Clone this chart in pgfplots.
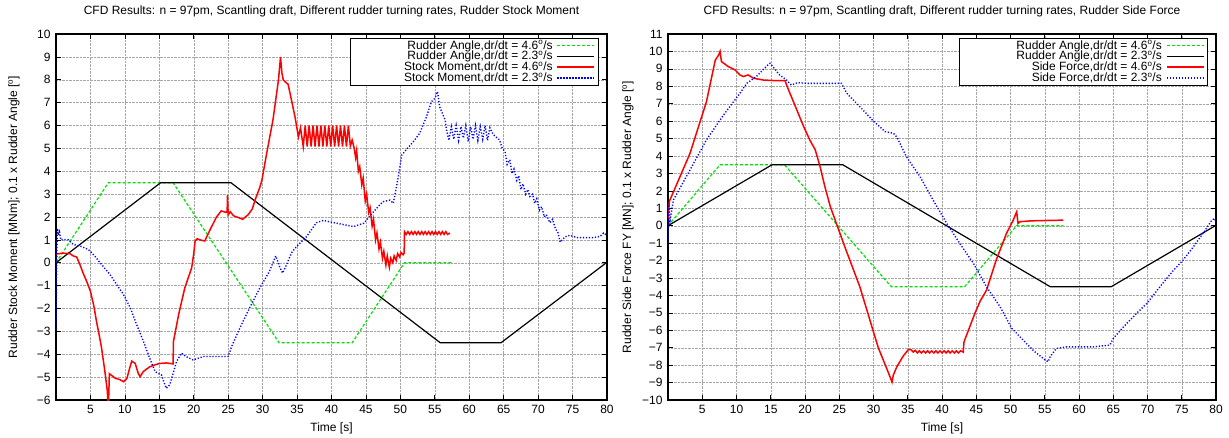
\documentclass[border=0pt]{standalone}
\usepackage{fontspec}
\setmainfont{Liberation Sans}
\usepackage{pgfplots}
\pgfplotsset{compat=1.18}
\definecolor{gGreen}{RGB}{0,225,0}
\definecolor{gRed}{RGB}{255,0,0}
\definecolor{gBlue}{RGB}{0,0,255}
\newcommand{\fsz}{\fontsize{12}{12}\selectfont}
\newcommand{\dgr}{\textsuperscript{o}}
\newcommand{\lgn}[1]{\makebox[198pt][r]{#1}}
\pgfplotsset{
  cfd/.style={
    scale only axis, height=366pt,
    xmin=0, xmax=80, xtick={5,10,...,80},
    grid=major, grid style={densely dotted, gray!70, line width=0.4pt},
    axis line style={line width=1.1pt},
    tick style={black, line width=0.7pt}, major tick length=5pt,
    tick label style={font=\fsz},
    x tick label style={yshift=-2pt},
    y tick label style={xshift=-2pt},
    /pgf/number format/assume math mode=true,
    title style={font=\fsz, at={(axis description cs:0.5,1)}, anchor=center, yshift=17pt},
    xlabel style={font=\fsz, at={(axis description cs:0.5,0)}, anchor=center, yshift=-28pt},
    ylabel style={font=\fsz},
    legend plot pos=right, legend cell align=right,
    legend image code/.code={\draw[##1] (0pt,0pt) -- (37pt,0pt);},
    legend style={font=\fsz, draw=black, line width=1pt, at={(axis description cs:0.985,0.99)}, anchor=north east,
      inner xsep=3pt, inner ysep=2pt, nodes={inner xsep=1pt, inner ysep=0.3pt}, column sep=3pt, row sep=0pt},
    xlabel={Time [s]},
  },
  gr/.style={color=gGreen, line width=1.2pt, dash pattern=on 3pt off 2pt},
  bk/.style={color=black, line width=1.2pt},
  rd/.style={color=gRed, line width=1.5pt},
  bl/.style={color=gBlue, line width=1.4pt, dash pattern=on 1.2pt off 1.8pt},
}
\begin{document}
\begin{tikzpicture}
\useasboundingbox (0,0) rectangle (1229pt,437pt);
% ---------------- LEFT ----------------
\begin{axis}[cfd, at={(56pt,37pt)}, anchor=south west, width=551pt,
  ymin=-6, ymax=10, ytick={-6,-5,...,10},
  yticklabels={−6,−5,−4,−3,−2,−1,0,1,2,3,4,5,6,7,8,9,10},
  title={CFD Results: n = 97pm, Scantling draft, Different rudder turning rates, Rudder Stock Moment},
  ylabel={Rudder Stock Moment [MNm]; 0.1 x Rudder Angle [\dgr]},
  ylabel style={at={(axis description cs:-0.0762,0.5)}, anchor=center},
]
\addplot[gr] coordinates {(0,0) (7.6,3.5) (17.0,3.5) (32.4,-3.5) (43.0,-3.5) (50.6,0) (57.5,0)};
\addlegendentry{\lgn{Rudder Angle,dr/dt = 4.6\dgr/s}}
\addplot[bk] coordinates {(0,0) (15.2,3.5) (25.4,3.5) (55.8,-3.5) (64.6,-3.5) (79.9,0) (80,0)};
\addlegendentry{\lgn{Rudder Angle,dr/dt = 2.3\dgr/s}}
\addplot[rd] coordinates {
(0,0.38) (1,0.42) (2,0.4) (2.5,0.3) (3,0.25) (3.5,-0.1) (4,-0.5) (4.5,-0.85) (5,-1.25) (5.5,-1.9) (5.9,-2.6) (6.3,-3.2) (6.6,-3.7) (7.1,-4.75) (7.45,-5.6) (7.6,-6.4) (7.75,-4.85)
(8.2,-4.95) (8.6,-5.05) (9.2,-5.1) (9.8,-5.2) (10.3,-5.05) (10.7,-4.6) (11.0,-4.3) (11.5,-4.4) (11.9,-4.8) (12.2,-4.98) (12.7,-4.75) (13.6,-4.55) (14.5,-4.45) (15.1,-4.4) (16,-4.38) (17.0,-4.42)
(17.05,-3.45) (17.8,-2.27) (18.7,-1.1) (19.7,-0.22) (20.0,0.4) (20.2,0.95) (20.5,1.05) (20.9,1.0) (21.6,0.95) (22.3,1.4) (23.3,2.0) (24.0,2.27) (24.7,2.2) (24.85,2.25) (24.9,2.95) (25.0,2.1) (25.3,2.23) (25.8,2.05) (26.7,1.95) (27.1,1.9) (27.9,2.1) (28.5,2.35) (28.9,2.74) (29.6,3.3) (29.9,3.62) (30.6,4.8) (31.5,6.24) (32.3,7.99) (32.6,9.0) (32.8,8.3) (33,7.99) (33.7,7.8) (34.2,7.1) (34.7,6.38) (35.2,5.5) (35.5,5.9)
(35.90,5.08) (36.18,6.00) (36.47,5.08) (36.75,6.00) (37.04,5.08) (37.32,6.00) (37.61,5.08) (37.89,6.00) (38.18,5.08) (38.46,6.00) (38.75,5.08) (39.03,6.00) (39.32,5.08) (39.60,6.00) (39.89,5.08) (40.17,6.00) (40.46,5.08) (40.74,6.00) (41.03,5.08) (41.31,6.00) (41.60,5.08) (41.88,6.00) (42.17,5.08) (42.45,6.00) (42.74,5.10) (43.0,5.36)
(43.3,5.0) (43.5,4.6) (43.65,4.9) (43.9,4.0) (44.1,4.2) (44.4,3.4) (44.6,3.7) (44.9,2.7) (45.1,3.0) (45.4,2.2) (45.6,2.4) (45.9,1.6) (46.1,1.9) (46.4,1.0) (46.6,1.3) (46.9,0.6) (47.1,0.9) (47.4,0.2) (47.6,0.5) (47.9,-0.1) (48.1,0.3) (48.4,-0.2) (48.6,0.2) (48.9,0.0) (49.1,0.3) (49.4,0.1) (49.6,0.4) (49.9,0.25) (50.1,0.45) (50.4,0.35) (50.55,0.42)
(50.6,1.36) (50.85,1.24) (51.1,1.36) (51.35,1.24) (51.6,1.36) (51.85,1.24) (52.1,1.36) (52.35,1.24) (52.6,1.36) (52.85,1.24) (53.1,1.36) (53.35,1.24) (53.6,1.36) (53.85,1.24) (54.1,1.36) (54.35,1.24) (54.6,1.36) (54.85,1.24) (55.1,1.36) (55.35,1.24) (55.6,1.36) (55.85,1.24) (56.1,1.36) (56.35,1.24) (56.6,1.36) (56.85,1.24) (57.2,1.30)
};
\addlegendentry{\lgn{Stock Moment,dr/dt = 4.6\dgr/s}}
\addplot[bl] coordinates {
(0,-2.9) (0.1,0.0) (0.2,1.5) (0.35,1.2) (0.5,1.35) (0.7,1.0) (1.1,1.02) (1.8,1.0) (2.5,0.8) (3.5,0.73) (4.7,0.58) (5.6,0.3) (6.6,-0.07) (7.8,-0.5) (8.8,-0.95) (9.8,-1.39) (10.8,-1.98) (11.7,-2.7) (12.7,-3.44) (13.6,-4.17) (14.4,-4.76) (14.8,-4.83) (15.3,-4.9) (16.0,-5.49) (16.5,-5.34) (16.8,-5.05) (17.5,-4.32) (18.2,-3.95) (18.9,-4.1) (19.9,-4.25) (21.4,-4.1) (22.8,-4.1) (25.0,-4.1) (25.5,-3.66) (26.7,-2.85) (28.1,-1.98) (29.6,-1.1) (31.0,-0.37) (31.9,0.3) (32.5,-0.2) (32.9,-0.45) (33.5,-0.07) (34.2,0.44) (34.9,0.7) (36.4,1.15) (37.8,1.75) (38.8,1.85) (40.7,1.73) (43.2,1.58) (44.7,1.73) (46.1,2.23) (47.0,2.53) (47.5,2.67) (48.5,2.74) (48.97,2.6) (49.7,3.76) (50.2,4.71) (50.9,4.95) (51.9,5.3) (52.8,5.66) (53.8,6.39) (54.5,7.04) (55.0,7.19) (55.4,7.48) (55.7,6.82) (56.0,6.6) (56.5,6.24)
(56.7,5.8) (57.05,5.35) (57.4,5.95) (57.75,5.4) (58.1,6.0) (58.45,5.35) (58.8,5.95) (59.15,5.45) (59.5,6.0) (59.85,5.3) (60.2,5.95) (60.55,5.4) (60.9,6.0) (61.25,5.35) (61.6,5.95) (61.95,5.4) (62.3,6.0) (62.65,5.35) (63.0,5.9) (63.5,5.6) (64.4,5.37)
(64.8,5.0) (65.2,4.86) (65.5,4.3) (65.9,4.5) (66.2,3.9) (66.5,4.1) (66.9,3.6) (67.2,3.8) (67.5,3.2) (67.8,3.45) (68.2,3.0) (68.5,3.2) (68.8,2.9) (69.2,3.0) (69.5,2.6) (69.8,2.8) (70.2,2.3) (70.5,2.45) (70.9,2.0) (71.2,2.1) (71.7,1.75) (72.1,1.9) (72.5,1.5) (72.9,1.3) (73.2,0.9) (73.5,1.0) (73.9,1.13) (74.6,1.2) (75.6,1.1) (77,1.1) (78,1.1) (79,1.15) (79.5,1.3) (80,1.2)
};
\addlegendentry{\lgn{Stock Moment,dr/dt = 2.3\dgr/s}}
\end{axis}
% ---------------- RIGHT ----------------
\begin{axis}[cfd, at={(668pt,37pt)}, anchor=south west, width=548pt,
  ymin=-10, ymax=11, ytick={-10,-9,...,11},
  yticklabels={−10,−9,−8,−7,−6,−5,−4,−3,−2,−1,0,1,2,3,4,5,6,7,8,9,10,11},
  title={CFD Results: n = 97pm, Scantling draft, Different rudder turning rates, Rudder Side Force},
  ylabel={Rudder Side Force FY [MN]; 0.1 x Rudder Angle [\dgr]},
  ylabel style={at={(axis description cs:-0.073,0.5)}, anchor=center},
]
\addplot[gr] coordinates {(0,0) (7.6,3.5) (17.0,3.5) (32.6,-3.5) (43.3,-3.5) (50.9,0) (57.7,0)};
\addlegendentry{\lgn{Rudder Angle,dr/dt = 4.6\dgr/s}}
\addplot[bk] coordinates {(0,0) (15.2,3.5) (25.5,3.5) (55.8,-3.5) (64.7,-3.5) (79.9,0) (80,0)};
\addlegendentry{\lgn{Rudder Angle,dr/dt = 2.3\dgr/s}}
\addplot[rd] coordinates {
(0,0.4) (0.2,1.4) (3.2,4.14) (5.6,7.1) (6.9,9.5) (7.4,9.8) (7.6,10.0) (7.8,9.42) (8.8,9.13) (9.8,8.94) (10.5,8.65) (11.0,8.56) (11.7,8.65) (12.5,8.46) (13.9,8.36) (15.4,8.33) (17.1,8.33) (17.3,8.08) (17.8,7.6) (18.8,6.65) (19.8,5.69) (20.7,4.92) (21.5,4.35) (22.2,3.39) (22.9,2.24) (23.7,1.09) (25.8,-1.2) (28.0,-3.5) (30,-6.1) (30.7,-7.0) (32.2,-8.46) (32.7,-8.97) (32.9,-8.56) (33.4,-8.1) (34.3,-7.5) (35.1,-7.1)
(35.5,-7.12) (35.8,-7.25) (36.1,-7.15) (36.4,-7.30) (36.7,-7.18) (37.0,-7.30) (37.3,-7.18) (37.6,-7.30) (37.9,-7.18) (38.2,-7.30) (38.5,-7.18) (38.8,-7.30) (39.1,-7.18) (39.4,-7.30) (39.7,-7.18) (40.0,-7.30) (40.3,-7.18) (40.6,-7.30) (40.9,-7.18) (41.2,-7.30) (41.5,-7.18) (41.8,-7.30) (42.1,-7.18) (42.4,-7.30) (42.7,-7.18) (43.1,-7.25) (43.2,-6.7) (43.4,-6.47)
(44.8,-5.03) (45.6,-4.3) (46.5,-3.7) (47.9,-1.98) (49.4,-0.45) (50.4,0.32) (50.9,0.8) (51.1,0.13) (51.4,0.23) (53,0.28) (57.7,0.32)
};
\addlegendentry{\lgn{Side Force,dr/dt = 4.6\dgr/s}}
\addplot[bl] coordinates {
(0,-1.0) (0.1,1.2) (0.3,0.3) (0.78,1.47) (3.2,3.19) (5.6,4.92) (8.1,6.35) (10.5,7.6) (11.5,8.17) (12.9,8.56) (14.6,9.23) (14.9,9.32) (16.3,8.65) (17.3,8.36) (18.0,8.08) (19.0,8.21) (20.2,8.17) (22.7,8.17) (25.3,8.17) (26.1,7.6) (28.0,6.83) (30.0,6.0) (31.7,5.4) (32.9,5.3) (33.4,5.1)
(34.8,3.96) (36.8,2.81) (38.7,1.47) (40.7,0.13) (42.6,-1.02) (44.6,-2.17) (46.5,-3.51) (48.5,-4.66) (50.2,-5.9) (51.4,-6.38) (53.3,-7.15) (55.0,-7.69) (55.5,-7.8) (55.8,-7.5) (56.7,-7.04) (58.2,-6.95) (62.1,-6.95) (64.5,-6.85) (65.0,-6.47) (66.5,-5.8) (68.4,-5.03) (69.9,-4.46) (71.8,-3.51) (73.8,-2.55) (75.2,-1.97) (76.7,-1.21) (78.1,-0.44) (79.4,0.32) (79.8,0.42) (80,0.2)
};
\addlegendentry{\lgn{Side Force,dr/dt = 2.3\dgr/s}}
\end{axis}
\end{tikzpicture}
\end{document}
